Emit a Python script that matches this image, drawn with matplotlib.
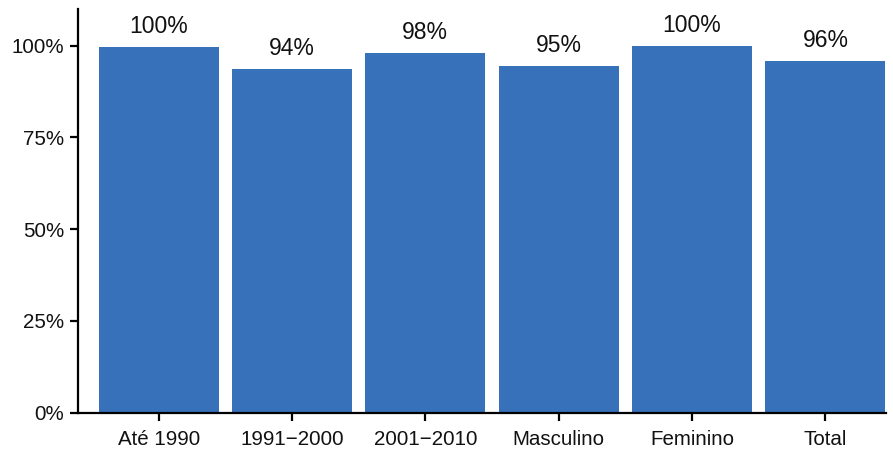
import matplotlib
matplotlib.use("Agg")
import matplotlib.pyplot as plt
from matplotlib.ticker import PercentFormatter

categories = ["Até 1990", "1991\u22122000", "2001\u22122010", "Masculino", "Feminino", "Total"]
values = [0.996, 0.936, 0.979, 0.946, 0.998, 0.957]
bar_labels = ["100%", "94%", "98%", "95%", "100%", "96%"]

plt.rcParams['font.family'] = ['Liberation Sans', 'DejaVu Sans']

fig = plt.figure(figsize=(8.93, 4.51), dpi=100)
ax = fig.add_axes([0.0873, 0.085, 0.9047, 0.895])

x = list(range(len(categories)))
bars = ax.bar(x, values, width=0.9, color="#3671b9")

for xi, v, lab in zip(x, values, bar_labels):
    ax.annotate(lab, (xi, v), xytext=(0, 6.5), textcoords="offset points",
                ha="center", va="bottom", fontsize=16.5, color="#111111")

ax.set_xlim(-0.605, 5.453)
ax.set_ylim(0, 1.1)
ax.set_yticks([0, 0.25, 0.5, 0.75, 1.0])
ax.yaxis.set_major_formatter(PercentFormatter(1.0, decimals=0))
ax.set_xticks(x)
ax.set_xticklabels(categories)

for s in ["top", "right"]:
    ax.spines[s].set_visible(False)
for s in ["left", "bottom"]:
    ax.spines[s].set_linewidth(1.6)
    ax.spines[s].set_color("black")
ax.tick_params(axis="both", length=6, width=1.6, labelsize=14.8, colors="black", labelcolor="#111111")
ax.tick_params(axis="x", pad=6.5)
ax.tick_params(axis="y", pad=4)

fig.savefig("out.png", dpi=100)
